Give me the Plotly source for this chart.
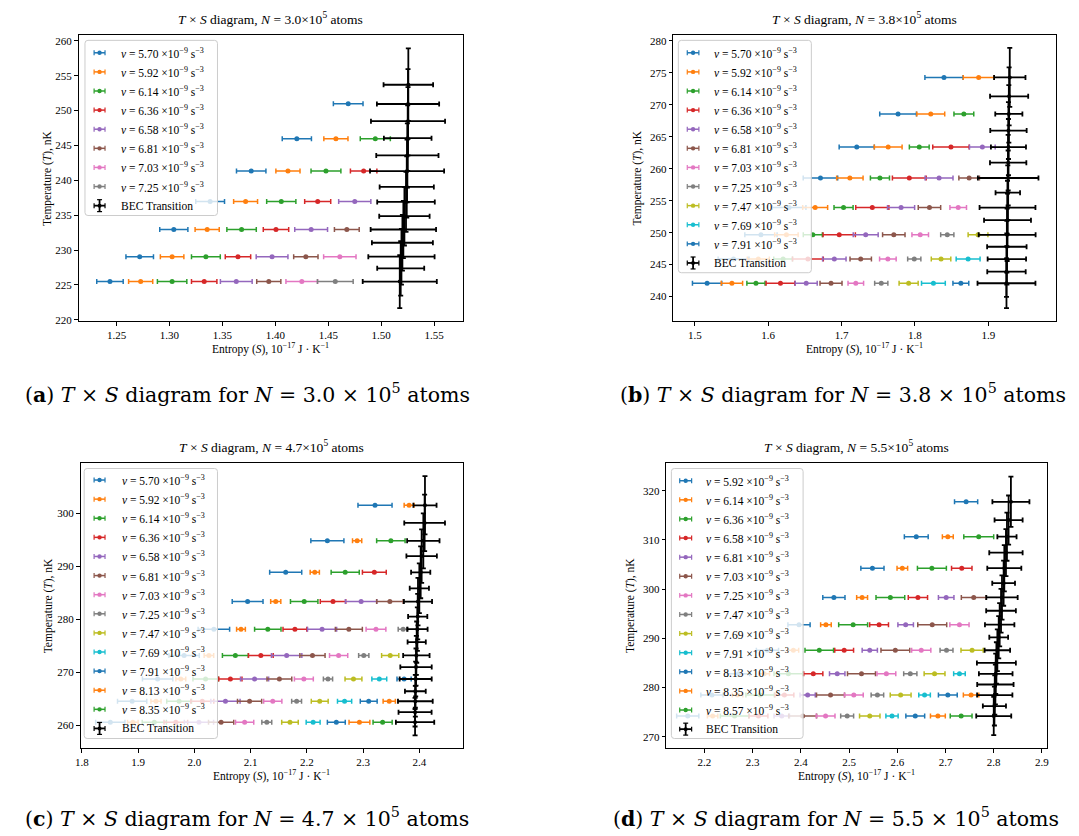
import plotly.graph_objects as go

W, H = 1079, 836
TAB = ["#1f77b4", "#ff7f0e", "#2ca02c", "#d62728", "#9467bd",
       "#8c564b", "#e377c2", "#7f7f7f", "#bcbd22", "#17becf"]
FONT = "Liberation Serif"
CAPFONT = "DejaVu Serif"

# ---------------- Panel (a): N = 3.0e5 ----------------
A_T = [225.48, 229.05, 232.95, 236.95, 241.33, 245.95, 251.0]
A_NU = ["5.70", "5.92", "6.14", "6.36", "6.58", "6.81", "7.03", "7.25"]
A_S = [
    [1.2438, 1.2719, 1.3041, 1.3384, 1.3772, 1.4203, 1.4688],
    [1.2728, 1.3025, 1.3356, 1.3719, 1.4119, 1.4572],
    [1.3025, 1.3344, 1.3681, 1.4056, 1.4478, 1.4944],
    [1.3328, 1.3647, 1.4006, 1.4400, 1.4834],
    [1.3631, 1.3969, 1.4338, 1.4750],
    [1.3938, 1.4288, 1.4675],
    [1.4250, 1.4609],
    [1.4566],
]
A_ERR = [
    [0.0125, 0.0130, 0.0133, 0.0136, 0.0139, 0.0138, 0.0140],
    [0.0114, 0.0111, 0.0114, 0.0113, 0.0114, 0.0114],
    [0.0139, 0.0136, 0.0139, 0.0138, 0.0141, 0.0142],
    [0.0120, 0.0120, 0.0120, 0.0123, 0.0125],
    [0.0150, 0.0150, 0.0155, 0.0152],
    [0.0114, 0.0115, 0.0117],
    [0.0150, 0.0153],
    [0.0169],
]
A_BEC_T = [225.48, 227.38, 229.05, 231.05, 232.95, 234.86, 236.9, 239.05,
           241.33, 243.57, 246.05, 248.48, 250.95, 253.71]
A_BEC_S = [1.5175, 1.5184, 1.5191, 1.5200, 1.5209, 1.5219, 1.5234, 1.5241,
           1.5244, 1.5247, 1.5250, 1.5253, 1.5253, 1.5256]
A_BEC_SERR = [0.0350, 0.0222, 0.0313, 0.0288, 0.0309, 0.0238, 0.0272, 0.0256,
              0.0350, 0.0294, 0.0225, 0.0350, 0.0294, 0.0234]
A_BEC_TERR = [3.8, 3.9, 4.0, 4.0, 4.1, 4.2, 4.3, 4.4, 4.5, 4.6, 4.7, 4.9, 5.0, 5.2]
A_XTICKS = [1.25, 1.30, 1.35, 1.40, 1.45, 1.50, 1.55]
A_YTICKS = [220, 225, 230, 235, 240, 245, 250, 255, 260]

# ---------------- Panel (b): N = 3.8e5 ----------------
B_T = [242.08, 245.87, 249.66, 253.92, 258.55, 263.38, 268.57, 274.29]
B_NU = ["5.70", "5.92", "6.14", "6.36", "6.58", "6.81", "7.03", "7.25",
        "7.47", "7.69", "7.91"]
B_S = [
    [1.5167, 1.5527, 1.5901, 1.6284, 1.6712, 1.7207, 1.7770, 1.8396],
    [1.5505, 1.5865, 1.6248, 1.6640, 1.7113, 1.7635, 1.8216, 1.8869],
    [1.5833, 1.6203, 1.6608, 1.7027, 1.7523, 1.8059, 1.8667],
    [1.6167, 1.6541, 1.6968, 1.7419, 1.7923, 1.8491],
    [1.6518, 1.6901, 1.7329, 1.7811, 1.8329, 1.8919],
    [1.6856, 1.7261, 1.7712, 1.8198, 1.8739],
    [1.7194, 1.7631, 1.8072, 1.8590],
    [1.7541, 1.7991, 1.8441],
    [1.7914, 1.8356, 1.8860],
    [1.8252, 1.8725],
    [1.8626],
]
B_ERR = [
    [0.0200, 0.0210, 0.0220, 0.0230, 0.0235, 0.0240, 0.0250, 0.0260],
    [0.0146, 0.0150, 0.0160, 0.0170, 0.0180, 0.0190, 0.0190, 0.0210],
    [0.0124, 0.0128, 0.0130, 0.0130, 0.0130, 0.0135, 0.0135],
    [0.0196, 0.0210, 0.0220, 0.0226, 0.0230, 0.0248],
    [0.0150, 0.0160, 0.0170, 0.0185, 0.0190, 0.0175],
    [0.0150, 0.0146, 0.0153, 0.0153, 0.0140],
    [0.0106, 0.0113, 0.0113, 0.0113],
    [0.0090, 0.0090, 0.0090],
    [0.0130, 0.0133, 0.0135],
    [0.0162, 0.0163],
    [0.0108],
]
B_BEC_T = [242.08, 243.9, 245.87, 247.79, 249.66, 251.95, 253.92, 256.26,
           258.55, 260.94, 263.38, 265.97, 268.57, 271.32, 274.29]
B_BEC_S = [1.9248, 1.9248, 1.9253, 1.9253, 1.9257, 1.9262, 1.9262, 1.9266,
           1.9271, 1.9271, 1.9275, 1.9275, 1.9280, 1.9284, 1.9293]
B_BEC_SERR = [0.0395, 0.0262, 0.0262, 0.0269, 0.0388, 0.0320, 0.0381, 0.0167,
              0.0413, 0.0248, 0.0239, 0.0248, 0.0185, 0.0260, 0.0214]
B_BEC_TERR = [3.9, 3.95, 4.0, 4.05, 4.1, 4.15, 4.2, 4.25, 4.3, 4.35, 4.4,
              4.45, 4.5, 4.55, 4.6]
B_XTICKS = [1.5, 1.6, 1.7, 1.8, 1.9]
B_YTICKS = [240, 245, 250, 255, 260, 265, 270, 275, 280]

# ---------------- Panel (c): N = 4.7e5 ----------------
C_T = [260.56, 264.52, 268.73, 273.19, 278.15, 283.36, 288.89, 294.85, 301.57]
C_NU = ["5.70", "5.92", "6.14", "6.36", "6.58", "6.81", "7.03", "7.25",
        "7.47", "7.69", "7.91", "8.13", "8.35"]
C_S = [
    [1.8506, 1.8894, 1.9347, 1.9818, 2.0347, 2.0947, 2.1624, 2.2365, 2.3212],
    [1.8906, 1.9318, 1.9759, 2.0259, 2.0829, 2.1447, 2.2141, 2.2894, 2.3818],
    [1.9288, 1.9729, 2.0200, 2.0729, 2.1306, 2.1953, 2.2682, 2.3494],
    [1.9671, 2.0141, 2.0641, 2.1182, 2.1788, 2.2465, 2.3200],
    [2.0082, 2.0553, 2.1071, 2.1641, 2.2271, 2.2965],
    [2.0476, 2.0982, 2.1512, 2.2100, 2.2747, 2.3476],
    [2.0894, 2.1394, 2.1947, 2.2565, 2.3229],
    [2.1288, 2.1818, 2.2376, 2.3012, 2.3712],
    [2.1700, 2.2229, 2.2829, 2.3482],
    [2.2112, 2.2671, 2.3288],
    [2.2524, 2.3100, 2.3729],
    [2.2935, 2.3465],
    [2.3347],
]
C_ERR = [
    [0.0260, 0.0260, 0.0270, 0.0270, 0.0280, 0.0274, 0.0285, 0.0294, 0.0303],
    [0.0094, 0.0090, 0.0088, 0.0085, 0.0078, 0.0090, 0.0082, 0.0082, 0.0088],
    [0.0215, 0.0220, 0.0225, 0.0230, 0.0235, 0.0244, 0.0250, 0.0253],
    [0.0210, 0.0205, 0.0206, 0.0220, 0.0212, 0.0226, 0.0212],
    [0.0260, 0.0260, 0.0250, 0.0270, 0.0259, 0.0280],
    [0.0224, 0.0215, 0.0220, 0.0224, 0.0240, 0.0235],
    [0.0162, 0.0162, 0.0168, 0.0162, 0.0176],
    [0.0088, 0.0088, 0.0082, 0.0091, 0.0088],
    [0.0147, 0.0150, 0.0150, 0.0153],
    [0.0124, 0.0126, 0.0132],
    [0.0159, 0.0150, 0.0126],
    [0.0185, 0.0109],
    [0.0170],
]
C_BEC_T = [260.56, 262.45, 264.52, 266.41, 268.73, 270.99, 273.19, 275.7,
           278.15, 280.53, 283.36, 285.87, 288.89, 291.96, 294.85, 298.24, 301.57]
C_BEC_S = [2.3924, 2.3924, 2.3929, 2.3929, 2.3935, 2.3941, 2.3947, 2.3953,
           2.3965, 2.3971, 2.3976, 2.4000, 2.4024, 2.4041, 2.4071, 2.4094, 2.4100]
C_BEC_SERR = [0.0341, 0.0294, 0.0309, 0.0185, 0.0285, 0.0279, 0.0235, 0.0162,
              0.0182, 0.0171, 0.0250, 0.0171, 0.0171, 0.0271, 0.0288, 0.0362, 0.0206]
C_BEC_TERR = [2.5, 2.7, 2.9, 3.1, 3.3, 3.5, 3.7, 3.9, 4.1, 4.3, 4.5, 4.7,
              4.9, 5.05, 5.2, 5.35, 5.5]
C_XTICKS = [1.8, 1.9, 2.0, 2.1, 2.2, 2.3, 2.4]
C_YTICKS = [260, 270, 280, 290, 300]

# ---------------- Panel (d): N = 5.5e5 ----------------
D_T = [274.19, 278.45, 282.77, 287.57, 292.77, 298.31, 304.26, 310.68, 317.77]
D_NU = ["5.92", "6.14", "6.36", "6.58", "6.81", "7.03", "7.25", "7.47",
        "7.69", "7.91", "8.13", "8.35", "8.57"]
D_S = [
    [2.1656, 2.2158, 2.2709, 2.3309, 2.3963, 2.4686, 2.5485, 2.6394, 2.7427],
    [2.2172, 2.2689, 2.3240, 2.3846, 2.4521, 2.5271, 2.6105, 2.7048],
    [2.2627, 2.3157, 2.3742, 2.4383, 2.5085, 2.5857, 2.6718, 2.7689],
    [2.3123, 2.3660, 2.4259, 2.4899, 2.5623, 2.6428, 2.7337],
    [2.3605, 2.4142, 2.4755, 2.5430, 2.6174, 2.7014],
    [2.4039, 2.4617, 2.5258, 2.5960, 2.6725, 2.7585],
    [2.4514, 2.5099, 2.5774, 2.6497, 2.7289],
    [2.4961, 2.5588, 2.6270, 2.7021],
    [2.5430, 2.6070, 2.6773, 2.7551],
    [2.5891, 2.6566, 2.7289],
    [2.6373, 2.7048],
    [2.6842, 2.7530],
    [2.7324],
]
D_ERR = [
    [0.0230, 0.0230, 0.0230, 0.0230, 0.0230, 0.0230, 0.0240, 0.0247, 0.0240],
    [0.0108, 0.0110, 0.0112, 0.0110, 0.0110, 0.0113, 0.0110, 0.0113],
    [0.0295, 0.0295, 0.0298, 0.0296, 0.0300, 0.0298, 0.0300, 0.0310],
    [0.0195, 0.0196, 0.0198, 0.0195, 0.0195, 0.0200, 0.0212],
    [0.0160, 0.0158, 0.0160, 0.0158, 0.0161, 0.0161],
    [0.0290, 0.0291, 0.0290, 0.0298, 0.0300, 0.0257],
    [0.0195, 0.0195, 0.0195, 0.0199, 0.0199],
    [0.0134, 0.0130, 0.0137, 0.0134],
    [0.0212, 0.0216, 0.0216, 0.0230],
    [0.0127, 0.0120, 0.0120],
    [0.0195, 0.0195],
    [0.0154, 0.0160],
    [0.0226],
]
D_BEC_T = [274.19, 276.22, 278.45, 280.61, 282.77, 285.0, 287.57, 290.2,
           292.77, 295.61, 298.31, 301.22, 304.26, 307.43, 310.68, 314.05, 317.77]
D_BEC_S = [2.8000, 2.8014, 2.8021, 2.8034, 2.8041, 2.8055, 2.8075, 2.8103,
           2.8123, 2.8151, 2.8171, 2.8205, 2.8219, 2.8253, 2.8274, 2.8308, 2.8356]
D_BEC_SERR = [0.0363, 0.0240, 0.0366, 0.0377, 0.0349, 0.0404, 0.0264, 0.0195,
              0.0305, 0.0308, 0.0325, 0.0236, 0.0353, 0.0346, 0.0199, 0.0291, 0.0384]
D_BEC_TERR = [3.9, 3.95, 4.0, 4.05, 4.1, 4.2, 4.25, 4.3, 4.4, 4.45, 4.5,
              4.6, 4.7, 4.8, 4.9, 5.0, 5.1]
D_XTICKS = [2.2, 2.3, 2.4, 2.5, 2.6, 2.7, 2.8, 2.9]
D_YTICKS = [270, 280, 290, 300, 310, 320]

# ---------------- layout configuration (pixels) ----------------
PANELS = [
    dict(letter="a", N="3.0", T=A_T, NU=A_NU, S=A_S, E=A_ERR,
         BT=A_BEC_T, BS=A_BEC_S, BSE=A_BEC_SERR, BTE=A_BEC_TERR,
         XT=A_XTICKS, YT=A_YTICKS, xfmt="%.2f",
         box=(65, 27, 452, 315), xr=(1.2141, 1.5769), yr=(219.76, 260.86),
         leg=(71.5, 32.5, 205, 208.5, 45.0, 80.7, 91.7, 106.0),
         ytx=33, cap=(235, 387)),
    dict(letter="b", N="3.8", T=B_T, NU=B_NU, S=B_S, E=B_ERR,
         BT=B_BEC_T, BS=B_BEC_S, BSE=B_BEC_SERR, BTE=B_BEC_TERR,
         XT=B_XTICKS, YT=B_YTICKS, xfmt="%.1f",
         box=(664, 27, 1050, 315), xr=(1.4703, 1.9926), yr=(236.1, 280.94),
         leg=(669.3, 32.5, 803.3, 266, 45.0, 678.3, 690.0, 703.0),
         ytx=628, cap=(835, 387)),
    dict(letter="c", N="4.7", T=C_T, NU=C_NU, S=C_S, E=C_ERR,
         BT=C_BEC_T, BS=C_BEC_S, BSE=C_BEC_SERR, BTE=C_BEC_TERR,
         XT=C_XTICKS, YT=C_YTICKS, xfmt="%.1f",
         box=(67, 457, 452, 744), xr=(1.7976, 2.477), yr=(255.6, 309.6),
         leg=(70.7, 462.7, 205, 734, 474.3, 80.7, 91.7, 106.5),
         ytx=35, cap=(235, 813)),
    dict(letter="d", N="5.5", T=D_T, NU=D_NU, S=D_S, E=D_ERR,
         BT=D_BEC_T, BS=D_BEC_S, BSE=D_BEC_SERR, BTE=D_BEC_TERR,
         XT=D_XTICKS, YT=D_YTICKS, xfmt="%.1f",
         box=(657, 457, 1041, 744), xr=(2.1208, 2.911), yr=(267.6, 325.7),
         leg=(662.3, 462.7, 795, 734, 475.0, 670.7, 682.7, 695.5),
         ytx=621, cap=(828, 813)),
]
LEG_STEP = 19.2


def fx(p):
    return p / W


def fy(p):
    return 1 - p / H


fig = go.Figure()
shapes = []
annotations = []


def ann(x, y, text, size, xanchor="center", yanchor="middle", angle=0,
        color="black", family=FONT):
    annotations.append(dict(
        x=fx(x), y=fy(y), xref="paper", yref="paper", text=text, showarrow=False,
        xanchor=xanchor, yanchor=yanchor, textangle=angle,
        font=dict(family=family, size=size, color=color)))


def line(x0, y0, x1, y1, color, width):
    shapes.append(dict(type="line", xref="paper", yref="paper", layer="above",
                       x0=fx(x0), y0=fy(y0), x1=fx(x1), y1=fy(y1),
                       line=dict(color=color, width=width)))


def dot(x, y, r, color):
    shapes.append(dict(type="circle", xref="paper", yref="paper", layer="above",
                       x0=fx(x - r), y0=fy(y + r), x1=fx(x + r), y1=fy(y - r),
                       fillcolor=color, line=dict(color=color, width=0)))


def rounded_box(x0, y0, x1, y1, r):
    X0, X1 = fx(x0), fx(x1)
    Y0, Y1 = fy(y0), fy(y1)
    rx, ry = r / W, r / H
    path = (f"M {X0 + rx},{Y0} L {X1 - rx},{Y0} Q {X1},{Y0} {X1},{Y0 - ry} "
            f"L {X1},{Y1 + ry} Q {X1},{Y1} {X1 - rx},{Y1} L {X0 + rx},{Y1} "
            f"Q {X0},{Y1} {X0},{Y1 + ry} L {X0},{Y0 - ry} Q {X0},{Y0} {X0 + rx},{Y0} Z")
    shapes.append(dict(type="path", path=path, xref="paper", yref="paper", layer="above",
                       fillcolor="rgba(255,255,255,0.8)",
                       line=dict(color="rgba(204,204,204,1)", width=1)))


for i, P in enumerate(PANELS):
    sfx = "" if i == 0 else str(i + 1)
    xa, ya = "x" + sfx, "y" + sfx
    x0, y0, x1, y1 = P["box"]
    # series
    for k, (svals, evals) in enumerate(zip(P["S"], P["E"])):
        c = TAB[k % 10]
        fig.add_trace(go.Scatter(
            x=svals, y=P["T"][:len(svals)], mode="markers", xaxis=xa, yaxis=ya,
            marker=dict(color=c, size=5), showlegend=False,
            error_x=dict(type="data", array=evals, color=c, thickness=1.5, width=2.5)))
    fig.add_trace(go.Scatter(
        x=P["BS"], y=P["BT"], mode="markers", xaxis=xa, yaxis=ya,
        marker=dict(color="black", size=4), showlegend=False,
        error_x=dict(type="data", array=P["BSE"], color="black", thickness=1.8, width=2.5),
        error_y=dict(type="data", array=P["BTE"], color="black", thickness=1.8, width=2.5)))

    axcommon = dict(showline=True, mirror=True, linecolor="black", linewidth=1,
                    ticks="outside", ticklen=3.5, tickwidth=0.8, tickcolor="black",
                    showgrid=False, zeroline=False,
                    tickfont=dict(family=FONT, size=11, color="black"))
    fig.update_layout({
        "xaxis" + sfx: dict(axcommon, domain=[fx(x0), fx(x1)], range=list(P["xr"]),
                            anchor=ya, tickvals=P["XT"],
                            ticktext=[P["xfmt"] % v for v in P["XT"]]),
        "yaxis" + sfx: dict(axcommon, domain=[fy(y1), fy(y0)], range=list(P["yr"]),
                            anchor=xa, tickvals=P["YT"],
                            ticktext=[str(v) for v in P["YT"]]),
    })

    cx = (x0 + x1) / 2
    ann(cx, y0 - 16, f"<i>T</i> × <i>S</i> diagram, <i>N</i> = {P['N']}×10<sup>5</sup> atoms", 13.5)
    ann(cx, y1 + 27, "Entropy (<i>S</i>), 10<sup>−17</sup> J · K<sup>−1</sup>", 11.5)
    ann(P["ytx"], (y0 + y1) / 2, "Temperature (<i>T</i>), nK", 11.5, angle=-90)
    ann(P["cap"][0], P["cap"][1],
        f"(<b>{P['letter']}</b>) <i>T</i> × <i>S</i> diagram for <i>N</i> = {P['N']} × 10<sup>5</sup> atoms",
        20.5, family=CAPFONT)

    # legend
    lx0, ly0, lx1, ly1, first, ix0, ix1, tx = P["leg"]
    rounded_box(lx0, ly0, lx1, ly1, 3)
    icx = (ix0 + ix1) / 2
    for k, nu in enumerate(P["NU"]):
        yy = first + k * LEG_STEP
        c = TAB[k % 10]
        line(ix0, yy, ix1, yy, c, 1.5)
        line(ix0, yy - 2.5, ix0, yy + 2.5, c, 1.2)
        line(ix1, yy - 2.5, ix1, yy + 2.5, c, 1.2)
        dot(icx, yy, 2.2, c)
        ann(tx, yy, f"<i>ν</i> = {nu} ×10<sup>−9</sup> s<sup>−3</sup>", 11.5, xanchor="left")
    yy = first + len(P["NU"]) * LEG_STEP
    line(ix0, yy, ix1, yy, "black", 1.8)
    line(ix0, yy - 2.5, ix0, yy + 2.5, "black", 1.2)
    line(ix1, yy - 2.5, ix1, yy + 2.5, "black", 1.2)
    line(icx, yy - 6, icx, yy + 6, "black", 1.8)
    line(icx - 2.5, yy - 6, icx + 2.5, yy - 6, "black", 1.2)
    line(icx - 2.5, yy + 6, icx + 2.5, yy + 6, "black", 1.2)
    dot(icx, yy, 2.0, "black")
    ann(tx, yy, "BEC Transition", 11.5, xanchor="left")

fig.update_layout(
    width=W, height=H, autosize=False,
    margin=dict(l=0, r=0, t=0, b=0),
    paper_bgcolor="white", plot_bgcolor="white",
    showlegend=False, shapes=shapes, annotations=annotations,
)

fig.write_html("out.html")
